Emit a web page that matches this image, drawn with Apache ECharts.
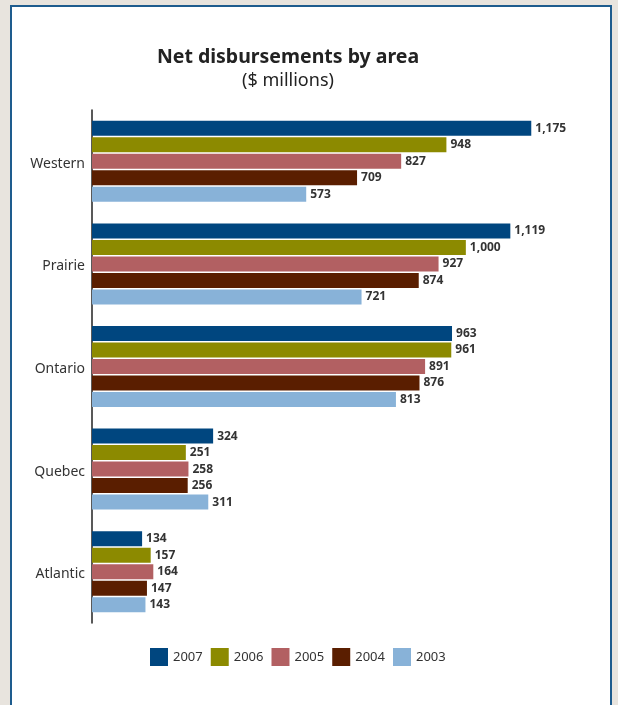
<!DOCTYPE html>
<html><head><meta charset="utf-8">
<script src="https://cdn.jsdelivr.net/npm/echarts@6/dist/echarts.min.js"></script>
<style>html,body{margin:0;padding:0;background:#e8e4de;}#c{width:618px;height:705px;}</style>
</head><body><div id="c"></div>
<script>
const categories = ['Western', 'Prairie', 'Ontario', 'Quebec', 'Atlantic'];
const years = ['2007', '2006', '2005', '2004', '2003'];
const v2007 = [1175, 1119, 963, 324, 134];
const v2006 = [948, 1000, 961, 251, 157];
const v2005 = [827, 927, 891, 258, 164];
const v2004 = [709, 874, 876, 256, 147];
const v2003 = [573, 721, 813, 311, 143];
const colors = ['#00467f', '#8c8a00', '#b26062', '#5a1e00', '#88b2d8'];
const seriesValues = [v2007, v2006, v2005, v2004, v2003];

const chart = echarts.init(document.getElementById('c'));
const font = '"Noto Sans", "Open Sans", sans-serif';
chart.setOption({
  backgroundColor: 'transparent',
  animation: false,
  graphic: [{
    type: 'rect', z: -10, silent: true,
    shape: {x: 11, y: 6, width: 600, height: 710},
    style: {fill: '#ffffff', stroke: '#1e5c8e', lineWidth: 2}
  }],
  title: {
    text: 'Net disbursements by area',
    subtext: '($ millions)',
    left: 283, textAlign: 'center', top: 42, itemGap: 5,
    textStyle: {fontFamily: font, fontSize: 19.5, fontWeight: 'bold', color: '#222'},
    subtextStyle: {fontFamily: font, fontSize: 18, color: '#222'}
  },
  legend: {
    data: years, top: 643, left: 145,
    itemWidth: 18, itemHeight: 18, itemGap: 8,
    textStyle: {fontFamily: font, fontSize: 13, color: '#333'},
    icon: 'rect'
  },
  grid: {left: 92, top: 110, height: 513, right: 40},
  xAxis: {type: 'value', min: 0, max: 1300, show: false},
  yAxis: {
    type: 'category', data: categories, inverse: true,
    axisLine: {show: true, lineStyle: {color: '#222', width: 1.5}},
    axisTick: {show: false},
    axisLabel: {
      margin: 7,
      formatter: v => '{a|' + v + '}',
      rich: {a: {fontFamily: font, fontSize: 14, color: '#333', padding: [5, 0, 0, 0]}}
    }
  },
  series: seriesValues.map((vals, i) => ({
    name: years[i], type: 'bar', data: vals,
    barWidth: 15, barGap: '10%',
    itemStyle: {color: colors[i]},
    label: {
      show: true, position: 'right', distance: 4,
      fontFamily: font, fontSize: 12, fontWeight: 'bold', color: '#333',
      formatter: p => p.value.toString().replace(/\B(?=(\d{3})+(?!\d))/g, ',')
    }
  }))
});
</script></body></html>
